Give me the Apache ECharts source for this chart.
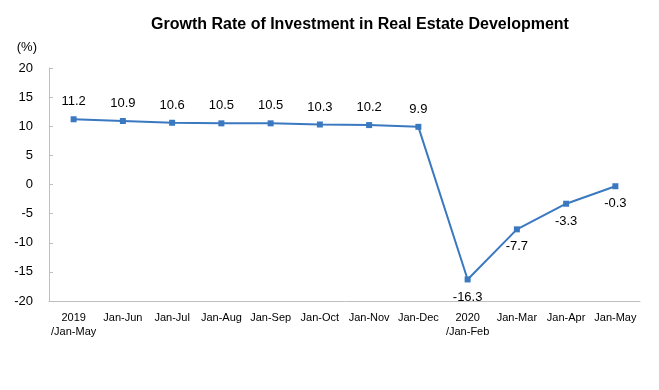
<!DOCTYPE html>
<html><head><meta charset="utf-8">
<script src="https://cdn.jsdelivr.net/npm/echarts@6/dist/echarts.min.js"></script>
<style>html,body{margin:0;padding:0;background:#fff}#c{width:659px;height:390px}</style>
</head><body><div id="c"></div>
<script>
const categories = ['2019\n/Jan-May','Jan-Jun','Jan-Jul','Jan-Aug','Jan-Sep','Jan-Oct','Jan-Nov','Jan-Dec','2020\n/Jan-Feb','Jan-Mar','Jan-Apr','Jan-May'];
const values = [11.2,10.9,10.6,10.5,10.5,10.3,10.2,9.9,-16.3,-7.7,-3.3,-0.3];
const labelBelow = [false,false,false,false,false,false,false,false,true,true,true,true];
const yTicks = {min:-20, max:20, interval:5};

const chart = echarts.init(document.getElementById('c'));
const font = 'Liberation Sans, Arial, sans-serif';
chart.setOption({
  animation:false,
  title:{text:'Growth Rate of Investment in Real Estate Development',left:355,textAlign:'center',top:12,
    textStyle:{fontFamily:font,fontSize:16,fontWeight:'bold',color:'#000'}},
  grid:{left:49,right:19,top:68,bottom:89},
  xAxis:{type:'category',data:categories,boundaryGap:true,
    axisLine:{onZero:false,lineStyle:{color:'#bfbfbf'}},
    axisTick:{inside:true,length:5,lineStyle:{color:'#bfbfbf'}},
    axisLabel:{color:'#000',fontFamily:font,fontSize:11,margin:10,lineHeight:14,interval:0}},
  yAxis:{type:'value',min:yTicks.min,max:yTicks.max,interval:yTicks.interval,
    name:'(%)',nameLocation:'end',nameGap:14,
    nameTextStyle:{color:'#000',fontFamily:font,fontSize:13,align:'right',padding:[0,12,0,0]},
    axisLine:{show:true,lineStyle:{color:'#bfbfbf'}},
    axisTick:{show:true,inside:true,length:4,lineStyle:{color:'#bfbfbf'}},
    splitLine:{show:false},
    axisLabel:{color:'#000',fontFamily:font,fontSize:13,margin:16}},
  series:[{type:'line',
    data:values.map((v,i)=>({value:v,label:{position:labelBelow[i]?'bottom':'top'}})),
    symbol:'rect',symbolSize:6,
    lineStyle:{color:'#3a78c0',width:2},
    itemStyle:{color:'#3a78c0'},
    label:{show:true,color:'#000',fontFamily:font,fontSize:13,distance:8,formatter:p=>p.value.toFixed(1)}}]
});
</script></body></html>
